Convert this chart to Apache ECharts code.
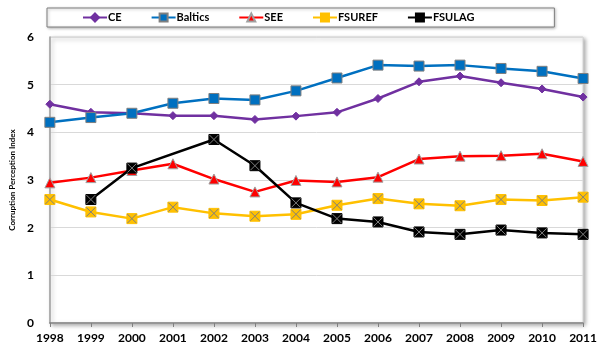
<!DOCTYPE html>
<html>
<head>
<meta charset="utf-8">
<script src="https://cdn.jsdelivr.net/npm/echarts@6/dist/echarts.min.js"></script>
<style>
  html, body { margin: 0; padding: 0; background: #fff; }
  #chart { width: 600px; height: 351px; }
</style>
</head>
<body>
<div id="chart"></div>
<script>
// 年份与各组数据
const years = ['1998', '1999', '2000', '2001', '2002', '2003', '2004', '2005', '2006', '2007', '2008', '2009', '2010', '2011']
const ce = [4.59, 4.42, 4.40, 4.35, 4.35, 4.27, 4.34, 4.42, 4.71, 5.06, 5.18, 5.04, 4.91, 4.74]
const baltics = [4.21, 4.31, 4.40, 4.61, 4.71, 4.68, 4.87, 5.14, 5.41, 5.39, 5.41, 5.34, 5.28, 5.13]
const see = [2.94, 3.05, 3.20, 3.34, 3.02, 2.75, 2.99, 2.96, 3.06, 3.44, 3.50, 3.51, 3.55, 3.39]
const fsuref = [2.59, 2.33, 2.19, 2.43, 2.30, 2.24, 2.28, 2.47, 2.61, 2.50, 2.46, 2.59, 2.57, 2.64]
const fsulag = [null, 2.59, 3.25, null, 3.85, 3.30, 2.52, 2.19, 2.12, 1.91, 1.86, 1.95, 1.89, 1.86]
const yTicks = [0, 1, 2, 3, 4, 5, 6]

const font = 'Lato, "Open Sans", sans-serif'
const xPath = 'path://M0,0L10,10M10,0L0,10'

function lineSeries (name, data, color, symbol, size, border) {
  return {
    name: name,
    type: 'line',
    data: data,
    connectNulls: true,
    symbol: symbol,
    symbolSize: size,
    lineStyle: { color: color, width: 2.5 },
    itemStyle: { color: color, borderColor: border || color, borderWidth: 1 },
    z: 3
  }
}

// 叠加的 X 形标记
function crossOverlay (data) {
  return {
    type: 'line',
    data: data,
    connectNulls: true,
    symbol: xPath,
    symbolSize: 9,
    lineStyle: { opacity: 0 },
    itemStyle: { color: 'none', borderColor: '#7f7f7f', borderWidth: 1 },
    silent: true,
    z: 4
  }
}

const myChart = echarts.init(document.getElementById('chart'))
const option = {
  animation: false,
  textStyle: { fontFamily: font },
  legend: {
    data: ['CE', 'Baltics', 'SEE', 'FSUREF', 'FSULAG'],
    left: 47,
    top: 8,
    padding: [4, 80, 4, 35],
    itemGap: 29,
    itemWidth: 24,
    itemHeight: 10,
    borderColor: '#7f7f7f',
    borderWidth: 1,
    backgroundColor: '#fff',
    shadowColor: 'rgba(0,0,0,0.3)',
    shadowBlur: 3,
    shadowOffsetX: 1,
    shadowOffsetY: 1,
    textStyle: { fontFamily: font, fontWeight: 'bold', fontSize: 11, color: '#000', padding: [0, 0, 0, -4] }
  },
  grid: {
    left: 47,
    right: 13,
    top: 37,
    bottom: 28,
    show: true,
    borderColor: '#d0d0d0',
    borderWidth: 1,
    backgroundColor: '#fff',
    shadowColor: 'rgba(0,0,0,0.35)',
    shadowBlur: 4,
    shadowOffsetX: 2,
    shadowOffsetY: 2
  },
  xAxis: {
    type: 'category',
    boundaryGap: false,
    data: years,
    axisLine: { lineStyle: { color: '#808080', width: 1.5 } },
    axisTick: { show: true, alignWithLabel: true, length: 4, lineStyle: { color: '#808080' } },
    axisLabel: { fontFamily: font, fontWeight: 'bold', fontSize: 12, color: '#000', margin: 9, interval: 0 }
  },
  yAxis: {
    type: 'value',
    min: yTicks[0],
    max: yTicks[yTicks.length - 1],
    interval: 1,
    name: 'Corruption Perception Index',
    nameLocation: 'middle',
    nameGap: 31,
    nameTextStyle: { fontFamily: font, fontWeight: 'bold', fontSize: 8, color: '#000' },
    axisLine: { show: true, lineStyle: { color: '#a0a0a0', width: 1.5 } },
    axisTick: { show: false },
    axisLabel: { fontFamily: font, fontWeight: 'bold', fontSize: 12, color: '#000', margin: 16 },
    splitLine: { lineStyle: { color: '#d9d9d9' } }
  },
  series: [
    lineSeries('CE', ce, '#7030a0', 'diamond', 8),
    lineSeries('Baltics', baltics, '#0070c0', 'rect', 10, '#7f7f7f'),
    lineSeries('SEE', see, '#ff0000', 'triangle', 10, '#a0a0a0'),
    lineSeries('FSUREF', fsuref, '#ffc000', 'rect', 10, '#ffc000'),
    lineSeries('FSULAG', fsulag, '#000000', 'rect', 10, '#000000'),
    crossOverlay(fsuref),
    crossOverlay(fsulag)
  ]
}
myChart.setOption(option)
</script>
</body>
</html>
